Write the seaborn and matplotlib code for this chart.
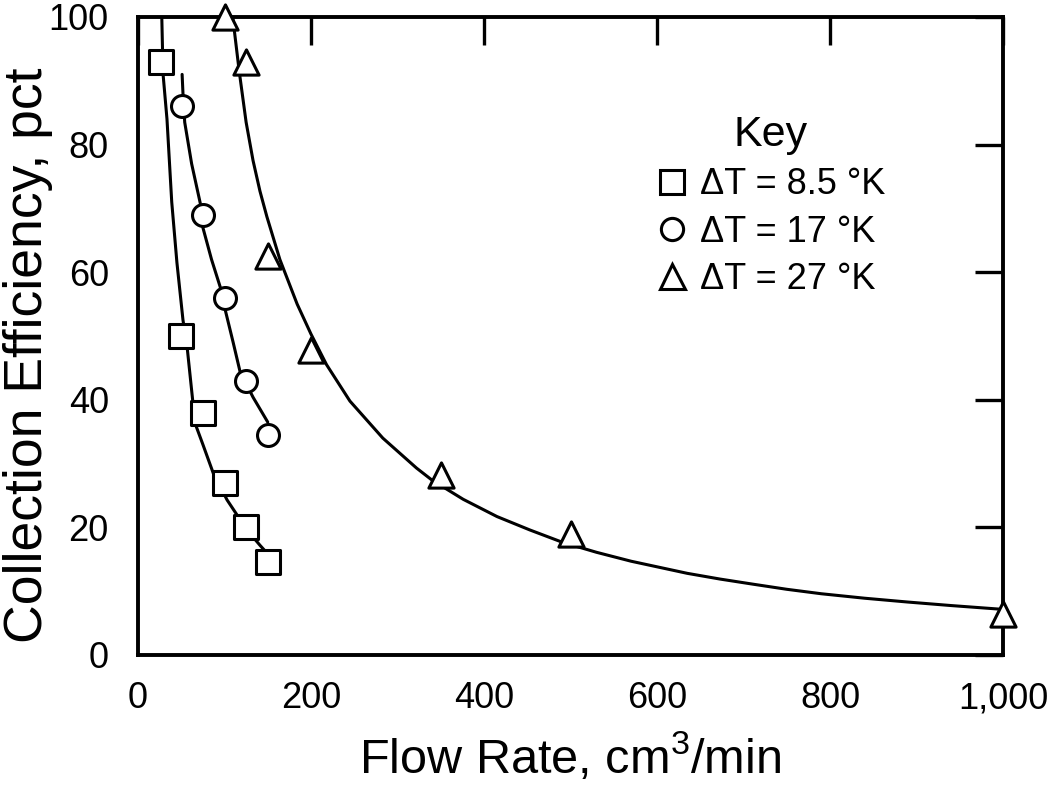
import matplotlib
matplotlib.use("Agg")
import matplotlib.pyplot as plt
import seaborn as sns
import pandas as pd
from matplotlib.lines import Line2D

# ---------------- data ----------------
series_labels = ["ΔT = 8.5 °K", "ΔT = 17 °K", "ΔT = 27 °K"]
series_markers = ["s", "o", "^"]

sq_x = [27, 50, 75, 100, 125, 150]
sq_y = [93, 50, 38, 27, 20, 14.5]

ci_x = [51, 75, 100, 125, 150]
ci_y = [86, 69, 56, 43, 34.5]

tr_x = [100, 125, 150, 200, 350, 500, 1000]
tr_y = [100, 93, 62.5, 47.8, 28.2, 19.0, 6.5]

# fitted curves
sq_cx = [27.5, 29, 33.5, 39, 45, 52, 57, 66, 75, 87, 103, 126, 141, 147]
sq_cy = [100, 91, 84, 71, 61.5, 52.5, 48, 36.3, 33, 28.5, 24.3, 19.6, 17.2, 16.3]

ci_cx = [51, 52, 54, 62, 72, 75, 85, 95, 101, 110, 118, 133, 150]
ci_cy = [91, 88, 83.5, 77, 70.8, 67, 62, 57.7, 54, 49, 44.4, 40.4, 36.5]

tr_cx = [109.5, 117, 125, 133, 141, 149, 164, 184, 200, 218, 245, 283, 322,
         340, 376, 415, 453, 490, 530, 570, 635, 673, 711, 750, 790, 840,
         890, 940, 1000]
tr_cy = [100, 91.5, 83.5, 77.5, 72.7, 68.7, 62, 55, 50.3, 45.5, 39.8, 34,
         29.3, 27.4, 24.4, 21.7, 19.6, 17.7, 16.1, 14.7, 12.8, 11.9, 11.1,
         10.3, 9.6, 8.9, 8.3, 7.75, 7.15]

x_ticks = [0, 200, 400, 600, 800, 1000]
x_tick_labels = ["0", "200", "400", "600", "800", "1,000"]
y_ticks = [0, 20, 40, 60, 80, 100]
y_tick_labels = ["0", "20", "40", "60", "80", "100"]

x_label = "Flow Rate, cm$^{3}$/min"
y_label = "Collection Efficiency, pct"
legend_title = "Key"

# ---------------- style ----------------
sns.set_theme(style="white")
plt.rcParams["font.family"] = ["Liberation Sans", "DejaVu Sans"]
plt.rcParams["mathtext.fontset"] = "custom"
plt.rcParams["mathtext.rm"] = "Liberation Sans"
plt.rcParams["mathtext.default"] = "regular"
plt.rcParams["text.color"] = "black"
plt.rcParams["axes.labelcolor"] = "black"
plt.rcParams["xtick.color"] = "black"
plt.rcParams["ytick.color"] = "black"

fig = plt.figure(figsize=(10.5, 7.86), dpi=100)
ax = fig.add_axes([138 / 1050, 1 - 655 / 786, 865 / 1050, 638 / 786])

LW = 2.2
curves = [(sq_cx, sq_cy), (ci_cx, ci_cy), (tr_cx, tr_cy)]
points = [(sq_x, sq_y), (ci_x, ci_y), (tr_x, tr_y)]
sizes = [290, 250, 330]

for (cx, cy) in curves:
    sns.lineplot(x=cx, y=cy, ax=ax, color="black", linewidth=LW,
                 sort=False, estimator=None)

for (px, py), mk, sz in zip(points, series_markers, sizes):
    df = pd.DataFrame({"x": px, "y": py})
    sns.scatterplot(data=df, x="x", y="y", ax=ax, marker=mk, s=sz,
                    facecolor="white", edgecolor="black", linewidth=LW,
                    clip_on=False, zorder=5)

ax.set_xlim(0, 1000)
ax.set_ylim(0, 100)
ax.set_xticks(x_ticks)
ax.set_xticklabels(x_tick_labels)
ax.set_yticks(y_ticks)
ax.set_yticklabels(y_tick_labels)

for sp in ax.spines.values():
    sp.set_visible(True)
    sp.set_color("black")
    sp.set_linewidth(2.8)

ax.tick_params(axis="both", which="major", direction="in", length=20,
               width=2.4, top=True, right=True, labelsize=26,
               colors="black")
ax.tick_params(axis="x", pad=19)
ax.tick_params(axis="y", pad=21)

ax.set_xlabel(x_label, fontsize=35)
ax.set_ylabel(y_label, fontsize=38.5)
ax.xaxis.set_label_coords(0.5, (655 - 773) / 638)
ax.xaxis.label.set_va("baseline")
ax.yaxis.set_label_coords((53 - 138) / 865, (655 - 355) / 638)

handles = [Line2D([], [], marker=m, linestyle="none", markerfacecolor="white",
                  markeredgecolor="black", markeredgewidth=LW, markersize=ms,
                  label=l)
           for m, l, ms in zip(series_markers, series_labels, [17, 16, 18])]
leg = ax.legend(handles=handles, title=legend_title, loc="upper left",
                bbox_to_anchor=(655 / 1050, 1 - 115 / 786),
                bbox_transform=fig.transFigure, frameon=False,
                fontsize=26, title_fontsize=31, handlelength=0.96,
                handletextpad=0.3, labelspacing=0.34, borderpad=0,
                borderaxespad=0)

fig.savefig("out.png", dpi=100, facecolor="white")
